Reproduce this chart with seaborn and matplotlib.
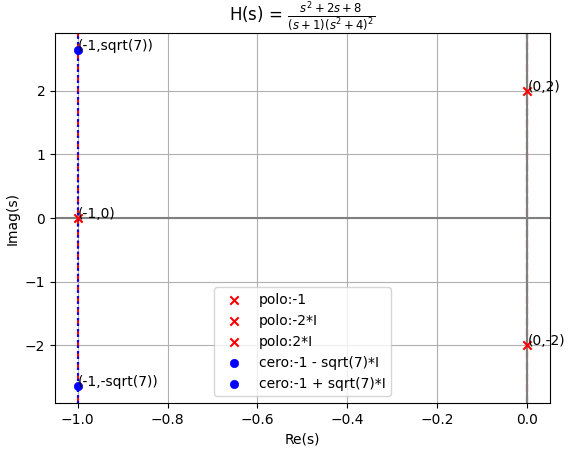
import matplotlib
matplotlib.use("Agg")
import matplotlib.pyplot as plt
import seaborn as sns
import numpy as np

# polos y ceros de H(s)
polos_re = [-1.0, 0.0, 0.0]
polos_im = [0.0, -2.0, 2.0]
polos_lbl = ["polo:-1", "polo:-2*I", "polo:2*I"]
polos_txt = ["(-1,0)", "(0,-2)", "(0,2)"]

ceros_re = [-1.0, -1.0]
ceros_im = [-np.sqrt(7), np.sqrt(7)]
ceros_lbl = ["cero:-1 - sqrt(7)*I", "cero:-1 + sqrt(7)*I"]
ceros_txt = ["(-1,-sqrt(7))", "(-1,sqrt(7))"]

fig, ax = plt.subplots(figsize=(5.68, 4.5), dpi=100)
fig.subplots_adjust(left=0.097, right=0.968, top=0.927, bottom=0.104)

# lineas verticales en la parte real
for r in polos_re:
    ax.axvline(r, color="red", ls="--", lw=1.5)
for r in ceros_re:
    ax.axvline(r, color="blue", ls=":", lw=1.5)

ax.axhline(0, color="gray", lw=1.5)
ax.axvline(0, color="gray", lw=1.5)

for re, im, lbl, txt in zip(polos_re, polos_im, polos_lbl, polos_txt):
    sns.scatterplot(x=[re], y=[im], color="red", marker="x", s=36, linewidth=1.5, label=lbl, ax=ax, zorder=3)
    ax.text(re, im, txt)
for re, im, lbl, txt in zip(ceros_re, ceros_im, ceros_lbl, ceros_txt):
    sns.scatterplot(x=[re], y=[im], color="blue", marker="o", s=36, edgecolor="blue", label=lbl, ax=ax, zorder=3)
    ax.text(re, im, txt)

ax.set_xlim(-1.05, 0.05)
ax.set_ylim(-np.sqrt(7) * 1.1, np.sqrt(7) * 1.1)
ax.grid(True)
ax.set_xlabel("Re(s)")
ax.set_ylabel("Imag(s)")
ax.set_title(r"H(s) = $\frac{s^2+2s+8}{(s+1)(s^2+4)^2}$")
ax.legend(loc="lower center")

fig.savefig("out.png")
